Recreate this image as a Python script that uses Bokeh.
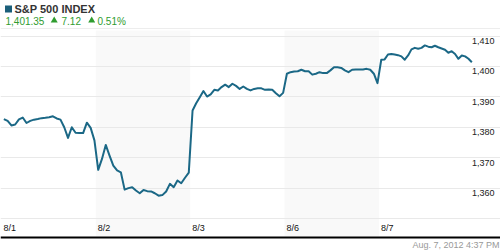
from bokeh.plotting import figure
from bokeh.models import Range1d, Span, Label, ColumnDataSource
from bokeh.core.properties import value
from bokeh.embed import file_html
from bokeh.resources import INLINE

# ---------------- data ----------------
days = ["8/1", "8/2", "8/3", "8/6", "8/7"]
shaded_days = [1, 3]

day1 = [1382.7, 1382.1, 1380.6, 1380.9, 1382.6, 1383.2, 1381.4, 1382.1, 1382.5, 1382.7,
        1383.0, 1383.1, 1383.3, 1383.6, 1382.9, 1382.5, 1380.0, 1376.5, 1380.0, 1378.2,
        1378.1, 1378.1, 1381.5, 1379.8, 1375.7]
day2 = [1366.0, 1369.6, 1374.2, 1370.7, 1367.4, 1365.8, 1365.2, 1359.5, 1360.0, 1360.3,
        1359.2, 1358.3, 1359.4, 1359.0, 1358.9, 1358.3, 1357.5, 1357.7, 1358.9, 1361.4,
        1360.3, 1362.5, 1361.6, 1363.4, 1365.1]
day3 = [1385.5, 1387.9, 1389.9, 1391.9, 1390.1, 1390.8, 1392.3, 1392.1, 1393.2, 1394.0,
        1393.2, 1394.3, 1393.6, 1392.6, 1393.4, 1392.6, 1392.1, 1392.6, 1392.8, 1392.8,
        1392.3, 1392.4, 1392.3, 1391.2, 1390.2, 1391.3]
day4 = [1397.6, 1398.1, 1398.3, 1398.4, 1398.9, 1398.4, 1398.4, 1397.3, 1397.6, 1398.1,
        1397.8, 1397.8, 1398.7, 1399.7, 1399.7, 1399.5, 1398.7, 1398.1, 1398.9, 1399.0,
        1399.0, 1399.0, 1399.2, 1398.9, 1397.6, 1394.5]
day5 = [1402.2, 1402.3, 1403.9, 1404.1, 1403.9, 1403.7, 1403.3, 1402.2, 1403.6, 1405.6,
        1406.1, 1405.8, 1406.1, 1406.9, 1406.5, 1406.3, 1406.8, 1406.3, 1405.9, 1405.5,
        1404.5, 1405.0, 1404.1, 1402.5, 1403.6, 1403.3, 1402.5, 1401.35]
sessions = [day1, day2, day3, day4, day5]

grid_levels = [1350, 1360, 1370, 1380, 1390, 1400, 1410]
y_ticks = [1360, 1370, 1380, 1390, 1400, 1410]
y_tick_labels = ["1,360", "1,370", "1,380", "1,390", "1,400", "1,410"]

title_text = "S&P 500 INDEX"
last_price = "1,401.35"
change = "7.12"
change_pct = "0.51%"
timestamp = "Aug. 7, 2012 4:37 PM"

# ---------------- geometry helpers (page pixels -> data) ----------------
W, H = 500, 250
PX_PER_DAY = 94.35
X0_PX = 1.0
PX_PER_PT = 3.042
REF_LEVEL, REF_PX = 1410, 35.5


def xd(px):
    return (px - X0_PX) / PX_PER_DAY


def yd(py):
    return REF_LEVEL - (py - REF_PX) / PX_PER_PT


SESSION_START, SESSION_END = 0.025, 0.985

xs, ys = [], []
for d, vals in enumerate(sessions):
    n = len(vals)
    for i, v in enumerate(vals):
        xs.append(d + SESSION_START + (SESSION_END - SESSION_START) * i / (n - 1))
        ys.append(v)

FONT = "Liberation Sans"
LINE_COLOR = "#1b6886"
GREEN = "#2f9c2f"

p = figure(width=W, height=H, x_range=Range1d(xd(0), xd(W)), y_range=Range1d(yd(H), yd(0)),
           x_axis_type=None, y_axis_type=None, min_border=0, toolbar_location=None,
           output_backend="svg", outline_line_color=None,
           background_fill_color="white", border_fill_color="white")
p.grid.visible = False

# shaded day bands
p.quad(left=[d for d in shaded_days], right=[d + 1 for d in shaded_days],
       top=yd(30), bottom=yd(236), fill_color="#f9f9f9", line_color=None)

# top separator and gridlines (glyphs, drawn beneath the price line)
p.hspan(y=[yd(28.3)], line_color="#ededed", line_width=1)
p.hspan(y=grid_levels, line_color="#e9e9e9", line_width=1)

# price line
p.line(xs, ys, line_color=LINE_COLOR, line_width=2, line_join="round")

# bottom axis line
p.add_layout(Span(location=yd(237), dimension="width", line_color="black", line_width=2))

# x labels
xsrc = ColumnDataSource(dict(x=list(range(len(days))), y=[yd(227.5)] * len(days), t=days))
p.text(x="x", y="y", text="t", source=xsrc, x_offset=2, text_align="left",
       text_baseline="middle", text_font=value(FONT), text_font_size="9px", text_color="#111111")

# y labels
ysrc = ColumnDataSource(dict(x=[xd(494)] * len(y_ticks), y=y_ticks, t=y_tick_labels))
p.text(x="x", y="y", text="t", source=ysrc, y_offset=5, text_align="right",
       text_baseline="middle", text_font=value(FONT), text_font_size="9px", text_color="#222222")

# header
p.scatter(x=[xd(8)], y=[yd(8.5)], marker="square", size=7, fill_color="#1b5f7a", line_color=None)
p.add_layout(Label(x=xd(14), y=yd(8.7), text=title_text, text_font=FONT, text_font_size="11px",
                   text_font_style="bold", text_color="#333333", text_align="left",
                   text_baseline="middle"))
p.add_layout(Label(x=xd(5), y=yd(20.5), text=last_price, text_font=FONT, text_font_size="10px",
                   text_color=GREEN, text_align="left", text_baseline="middle"))
p.scatter(x=[xd(53.7), xd(91.2)], y=[yd(20.0), yd(20.0)], marker="triangle", size=7,
          fill_color=GREEN, line_color=None)
p.add_layout(Label(x=xd(61), y=yd(20.5), text=change, text_font=FONT, text_font_size="10px",
                   text_color=GREEN, text_align="left", text_baseline="middle"))
p.add_layout(Label(x=xd(97), y=yd(20.5), text=change_pct, text_font=FONT, text_font_size="10px",
                   text_color=GREEN, text_align="left", text_baseline="middle"))

# footer timestamp
p.add_layout(Label(x=xd(499), y=yd(244), text=timestamp, text_font=FONT, text_font_size="9px",
                   text_color="#999999", text_align="right", text_baseline="middle"))

open("out.html", "w").write(file_html(p, INLINE))
